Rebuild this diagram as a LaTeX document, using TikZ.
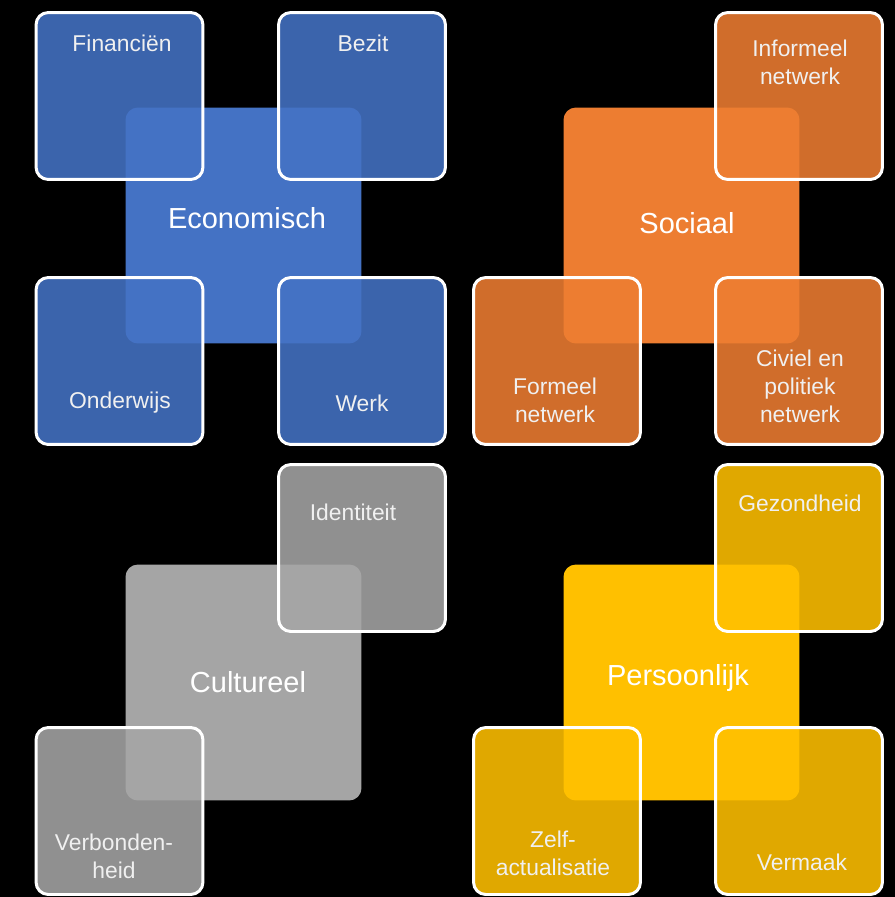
\documentclass[tikz,border=0pt]{standalone}
\usepackage{fontspec}
\setmainfont{Liberation Sans}
\usepackage{tikz}
\usetikzlibrary{positioning}
\definecolor{econblue}{HTML}{4472C4}
\definecolor{socorange}{HTML}{ED7D31}
\definecolor{cultgray}{HTML}{A5A5A5}
\definecolor{persyellow}{HTML}{FFC000}
\tikzset{
  mainsq/.style = {
    rectangle, rounded corners=7pt, draw=none,
    minimum size=4.72cm, inner sep=0pt
  },
  subsq/.style = {
    rectangle, rounded corners=7pt, draw=white, line width=1.7pt,
    fill opacity=0.88, minimum size=3.34cm, inner sep=0pt
  },
  mainlbl/.style = {
    text=white, font=\fontsize{16.5}{19}\selectfont, align=center
  },
  sublbl/.style = {
    text=white!94!black, font=\fontsize{13}{16}\selectfont, align=center
  }
}

\begin{document}
\begin{tikzpicture}[x=0.02cm, y=-0.02cm]
  \fill[black] (0,0) rectangle (895,897);
  \useasboundingbox (0,0) rectangle (895,897);

  % Economisch
  \node[mainsq, fill=econblue] (econ) at (243.5,225.5) {};
  \node[subsq, fill=econblue] (fin) at (119.5,96) {};
  \node[subsq, fill=econblue] (bezit) at (362,96) {};
  \node[subsq, fill=econblue] (onderw) at (119.5,361) {};
  \node[subsq, fill=econblue] (werk) at (362,361) {};
  \node[mainlbl] at (247,218) {Economisch};
  \node[sublbl] at (122,43) {Financiën};
  \node[sublbl] at (363,43) {Bezit};
  \node[sublbl] at (120,403) {Onderwijs};
  \node[sublbl] at (362,403) {Werk};

  % Sociaal
  \node[mainsq, fill=socorange] (soc) at (681.5,225.5) {};
  \node[subsq, fill=socorange] (infnet) at (799,96) {};
  \node[subsq, fill=socorange] (formnet) at (557,361) {};
  \node[subsq, fill=socorange] (civnet) at (799,361) {};
  \node[mainlbl] at (687,223) {Sociaal};
  \node[sublbl] at (800,62) {Informeel\\netwerk};
  \node[sublbl] at (555,400) {Formeel\\netwerk};
  \node[sublbl] at (800,386) {Civiel en\\politiek\\netwerk};

  % Cultureel
  \node[mainsq, fill=cultgray] (cult) at (243.5,682.5) {};
  \node[subsq, fill=cultgray] (ident) at (362,548) {};
  \node[subsq, fill=cultgray] (verb) at (119.5,811) {};
  \node[mainlbl] at (248,682) {Cultureel};
  \node[sublbl] at (353,512) {Identiteit};
  \node[sublbl] at (114,856) {Verbonden-\\heid};

  % Persoonlijk
  \node[mainsq, fill=persyellow] (pers) at (681.5,682.5) {};
  \node[subsq, fill=persyellow] (gezond) at (799,548) {};
  \node[subsq, fill=persyellow] (zelf) at (557,811) {};
  \node[subsq, fill=persyellow] (vermaak) at (799,811) {};
  \node[mainlbl] at (678,678) {Persoonlijk};
  \node[sublbl] at (800,503) {Gezondheid};
  \node[sublbl] at (553,853) {Zelf-\\actualisatie};
  \node[sublbl] at (802,862) {Vermaak};
\end{tikzpicture}
\end{document}
